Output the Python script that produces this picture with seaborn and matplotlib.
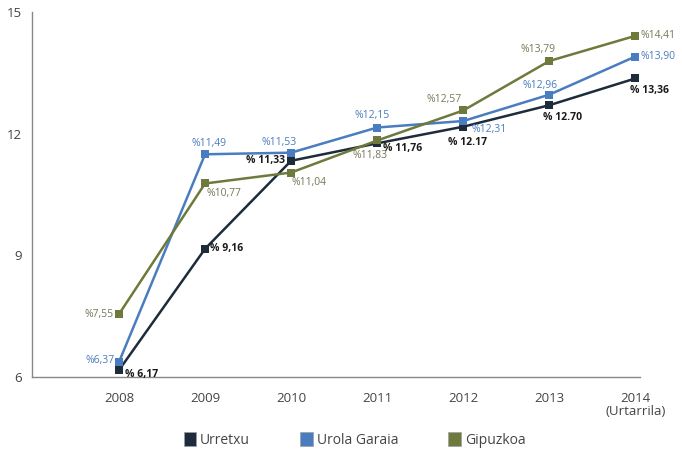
import pandas as pd
import matplotlib
matplotlib.use("Agg")
import matplotlib.pyplot as plt
from matplotlib.patches import Patch
import seaborn as sns

# data
years = ["2008", "2009", "2010", "2011", "2012", "2013", "2014\n(Urtarrila)"]
series_names = ["Urretxu", "Urola Garaia", "Gipuzkoa"]
urretxu = [6.17, 9.16, 11.33, 11.76, 12.17, 12.70, 13.36]
urola_garaia = [6.37, 11.49, 11.53, 12.15, 12.31, 12.96, 13.90]
gipuzkoa = [7.55, 10.77, 11.04, 11.83, 12.57, 13.79, 14.41]
urretxu_labels = ["% 6,17", "% 9,16", "% 11,33", "% 11,76", "% 12.17", "% 12.70", "% 13,36"]
urola_labels = ["%6,37", "%11,49", "%11,53", "%12,15", "%12,31", "%12,96", "%13,90"]
gipuzkoa_labels = ["%7,55", "%10,77", "%11,04", "%11,83", "%12,57", "%13,79", "%14,41"]

line_colors = ["#1d2b3b", "#4a7dbf", "#6d7a3c"]
text_colors = ["#1a1a1a", "#4a7dbf", "#77775a"]

# label placement per point (offset pixels, horizontal alignment)
placements = {
    "Urretxu": [((6, -4), "left"), ((5, 0), "left"), ((-6, 0), "right"), ((6, -5), "left"),
                ((4, -16), "center"), ((13, -12), "center"), ((14, -12), "center")],
    "Urola Garaia": [((-4, 2), "right"), ((4, 11), "center"), ((-12, 10), "center"),
                     ((-5, 12), "center"), ((8, -8), "left"), ((-9, 9), "center"), ((5, 0), "left")],
    "Gipuzkoa": [((-5, 0), "right"), ((1, -10), "left"), ((0, -10), "left"), ((-7, -15), "center"),
                 ((-19, 11), "center"), ((-11, 11), "center"), ((5, 0), "left")],
}

df = pd.DataFrame({
    "idx": list(range(len(years))) * 3,
    "value": urretxu + urola_garaia + gipuzkoa,
    "series": [s for s in series_names for _ in years],
})

sns.set_style("white")
plt.rcParams["font.family"] = ["Open Sans", "DejaVu Sans"]

fig = plt.figure(figsize=(6.82, 4.57), dpi=100)
ax = fig.add_axes([0.047, 0.175, 0.891, 0.799])

sns.lineplot(data=df, x="idx", y="value", hue="series", hue_order=series_names,
             palette=line_colors, marker="s", markersize=6, markeredgewidth=0,
             linewidth=1.8, legend=False, ax=ax)

all_labels = {"Urretxu": urretxu_labels, "Urola Garaia": urola_labels, "Gipuzkoa": gipuzkoa_labels}
all_values = {"Urretxu": urretxu, "Urola Garaia": urola_garaia, "Gipuzkoa": gipuzkoa}
for name, tcol in zip(series_names, text_colors):
    for i, (val, lab) in enumerate(zip(all_values[name], all_labels[name])):
        (dx, dy), ha = placements[name][i]
        ax.annotate(lab, (i, val), xytext=(dx, dy), textcoords="offset pixels",
                    ha=ha, va="center", fontsize=7.5, color=tcol,
                    fontweight="bold" if name == "Urretxu" else "normal")

ax.set_xlim(-1.01, 6.05)
ax.set_ylim(6, 15)
ax.set_xticks(range(len(years)))
ax.set_xticklabels(years, fontsize=9.5, color="#444444", linespacing=0.95)
ax.set_yticks([6, 9, 12, 15])
ax.set_yticklabels(["6", "9", "12", "15"], fontsize=9.5, color="#444444")
ax.tick_params(axis="x", direction="in", length=7, width=0.9, color="#777777", pad=11)
ax.tick_params(axis="y", direction="in", length=5, width=0.9, color="#777777", pad=7)
ax.set_xlabel("")
ax.set_ylabel("")
sns.despine(ax=ax)
for sp in ["left", "bottom"]:
    ax.spines[sp].set_color("#888888")
    ax.spines[sp].set_linewidth(1.0)

handles = [Patch(facecolor=c, edgecolor="#9aa0a6", linewidth=0.5) for c in line_colors]
fig.legend(handles, series_names, loc="center", bbox_to_anchor=(0.52, 0.037), ncol=3,
           frameon=False, fontsize=10, handlelength=0.9, handleheight=1.1,
           handletextpad=0.3, columnspacing=3.6, labelcolor="#444444")

fig.savefig("out.png", dpi=100)
